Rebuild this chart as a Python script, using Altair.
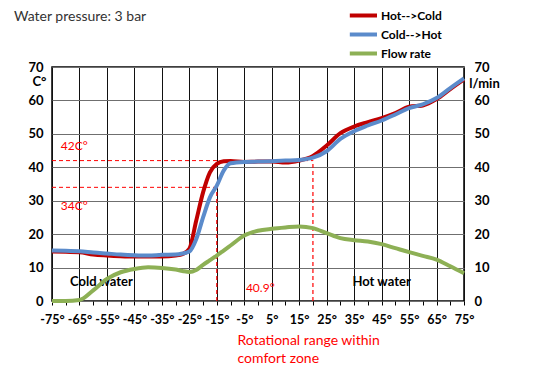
import altair as alt
import pandas as pd

# ---- data ----
angle = [-75, -70, -65, -60, -55, -50, -45, -40, -35, -30, -27.5, -25, -22.5, -20, -17.5,
         -15, -12.5, -10, -5, 0, 5, 10, 15, 20, 25, 30, 35, 40, 45, 50, 55, 60, 65, 70, 75]
hot_to_cold = [14.8, 14.7, 14.6, 13.9, 13.6, 13.4, 13.3, 13.3, 13.3, 13.6, 14.0, 15.6, 24.0, 32.5, 38.5,
               41.0, 41.8, 41.9, 41.6, 41.7, 41.7, 41.4, 42.0, 43.4, 46.5, 50.2, 52.2, 53.5, 54.7, 56.2,
               58.1, 58.5, 60.4, 63.4, 66.3]
cold_to_hot = [15.1, 15.0, 14.9, 14.5, 14.2, 13.9, 13.7, 13.6, 13.8, 13.9, 14.2, 14.8, 18.5, 25.0, 31.0,
               34.5, 39.0, 41.2, 41.6, 41.7, 41.8, 42.0, 42.2, 42.9, 44.8, 48.5, 50.8, 52.5, 54.0, 55.8,
               57.7, 58.8, 60.7, 63.7, 66.6]
flow_rate = [0.0, 0.0, 0.3, 3.2, 6.6, 8.6, 9.6, 10.1, 9.9, 9.4, 9.0, 8.7, 9.3, 10.8, 12.2,
             13.6, 15.1, 16.6, 19.6, 21.0, 21.6, 22.0, 22.3, 21.8, 20.3, 18.8, 18.2, 17.8, 17.0, 15.8,
             14.6, 13.5, 12.4, 10.4, 8.3]

series_names = ["Hot-->Cold", "Cold-->Hot", "Flow rate"]
series_colors = ["#C00000", "#5B8BCB", "#8DB055"]

x_ticks = list(range(-75, 80, 5))
y_ticks = list(range(0, 80, 10))

# comfort zone markers
dash_x = [-15, 20]
dash_y = [34, 42]

notes_black = ["Cold water", "Hot water"]
notes_black_x = [-57, 45]
notes_black_y = [5.8, 5.8]
notes_red = ["40.9°", "42C°", "34C°"]
notes_red_x = [-4.4, -71.8, -71.8]
notes_red_y = [3.8, 46.3, 28.4]

chart_title = "Water pressure: 3 bar"
x_title = ["Rotational range within", "comfort zone"]

FONT = "Lato"

# ---- frames ----
df_hot = pd.DataFrame({"angle": angle, "value": hot_to_cold, "series": series_names[0]})
df_cold = pd.DataFrame({"angle": angle, "value": cold_to_hot, "series": series_names[1]})
df_flow = pd.DataFrame({"angle": angle, "value": flow_rate, "series": series_names[2]})
df_dash = pd.DataFrame({"x0": [x_ticks[0]] * len(dash_x), "x1": dash_x, "y0": [0] * len(dash_x), "y1": dash_y})
df_nb = pd.DataFrame({"x": notes_black_x, "y": notes_black_y, "t": notes_black})
df_nr = pd.DataFrame({"x": notes_red_x, "y": notes_red_y, "t": notes_red})
df_title = pd.DataFrame({"t": [chart_title]})

xscale = alt.Scale(domain=[-75, 75], nice=False, zero=False)
yscale = alt.Scale(domain=[0, 70], nice=False)

x_axis = alt.Axis(
    values=x_ticks,
    labelExpr="(datum.value + 75) % 10 == 0 ? datum.value + '°' : ''",
    labelOverlap=False, labelFlush=False,
    labelFont=FONT, labelFontWeight="bold", labelFontSize=12.5, labelColor="black",
    labelPadding=8,
    tickSize=4, tickColor="black",
    grid=True, gridColor="#111111", gridWidth=1,
    gridOpacity={"condition": {"test": "(datum.value + 75) % 10 == 0", "value": 1}, "value": 0},
    domain=False,
    title=x_title, titleColor="#FF0000", titleFont=FONT, titleFontWeight="normal",
    titleFontSize=14, titleAlign="left", titleBaseline="top", titleX=185, titleY=32,
    titleLineHeight=18,
)

left_axis = alt.Axis(
    values=y_ticks, grid=True, gridColor="#6f6f6f", gridWidth=1,
    labelOverlap=False, labelFlush=False,
    labelFont=FONT, labelFontWeight="bold", labelFontSize=13, labelColor="black",
    labelPadding=9, ticks=False, domain=False,
    title="C°", titleAngle=0, titleFont=FONT, titleFontWeight="bold", titleFontSize=13,
    titleAlign="center", titleBaseline="middle", titleX=-13, titleY=14,
)

right_axis = alt.Axis(
    orient="right", values=y_ticks, grid=False,
    labelOverlap=False, labelFlush=False,
    labelFont=FONT, labelFontWeight="bold", labelFontSize=13, labelColor="black",
    labelPadding=10, ticks=False, domain=False,
    title="l/min", titleAngle=0, titleFont=FONT, titleFontWeight="bold", titleFontSize=13,
    titleAlign="center", titleBaseline="middle", titleX=20, titleY=16,
)

color = alt.Color(
    "series:N",
    scale=alt.Scale(domain=series_names, range=series_colors),
    legend=alt.Legend(
        title=None, orient="none", legendX=306, legendY=-62,
        symbolType="M-2.2,0H1", symbolStrokeWidth=4, symbolSize=289,
        labelFont=FONT, labelFontWeight="bold", labelFontSize=12, labelColor="black",
        labelOffset=2, rowPadding=0,
    ),
)


def X(field):
    return alt.X(field, scale=xscale, axis=x_axis)


def YL(field):
    return alt.Y(field, scale=yscale, axis=left_axis)


hot = alt.Chart(df_hot).mark_line(strokeWidth=4, interpolate="monotone").encode(
    x=X("angle:Q"), y=YL("value:Q"), color=color)
cold = alt.Chart(df_cold).mark_line(strokeWidth=4, interpolate="monotone").encode(
    x=X("angle:Q"), y=YL("value:Q"), color=color)

hdash = alt.Chart(df_dash).mark_rule(color="#FF0000", strokeWidth=1, strokeDash=[4, 3]).encode(
    x=X("x0:Q"), x2="x1:Q", y=YL("y1:Q"))
vdash = alt.Chart(df_dash).mark_rule(color="#FF0000", strokeWidth=1.2, strokeDash=[4, 3]).encode(
    x=X("x1:Q"), y=YL("y0:Q"), y2="y1:Q")

txt_b = alt.Chart(df_nb).mark_text(font=FONT, fontWeight="bold", fontSize=13, color="black",
                                   align="center", baseline="middle").encode(
    x=X("x:Q"), y=YL("y:Q"), text="t:N")
txt_r = alt.Chart(df_nr).mark_text(font=FONT, fontSize=12, color="#FF0000",
                                   align="left", baseline="middle").encode(
    x=X("x:Q"), y=YL("y:Q"), text="t:N")
ttl = alt.Chart(df_title).mark_text(font=FONT, fontSize=14, color="#333333", align="left",
                                    baseline="middle").encode(x=alt.value(-38), y=alt.value(-50), text="t:N")

left = alt.layer(hdash, vdash, hot, cold, txt_b, txt_r, ttl)

flow = alt.Chart(df_flow).mark_line(strokeWidth=4, interpolate="monotone").encode(
    x=X("angle:Q"), y=alt.Y("value:Q", scale=yscale, axis=right_axis), color=color)

chart = alt.layer(left, flow).resolve_scale(y="independent").properties(
    width=412, height=234,
    autosize=alt.AutoSizeParams(type="none"),
    padding={"left": 44, "top": 59, "right": 60, "bottom": 66},
).configure_view(stroke="black", strokeWidth=1.5)

chart.save("out.html", embed_options={"renderer": "svg", "actions": False})
